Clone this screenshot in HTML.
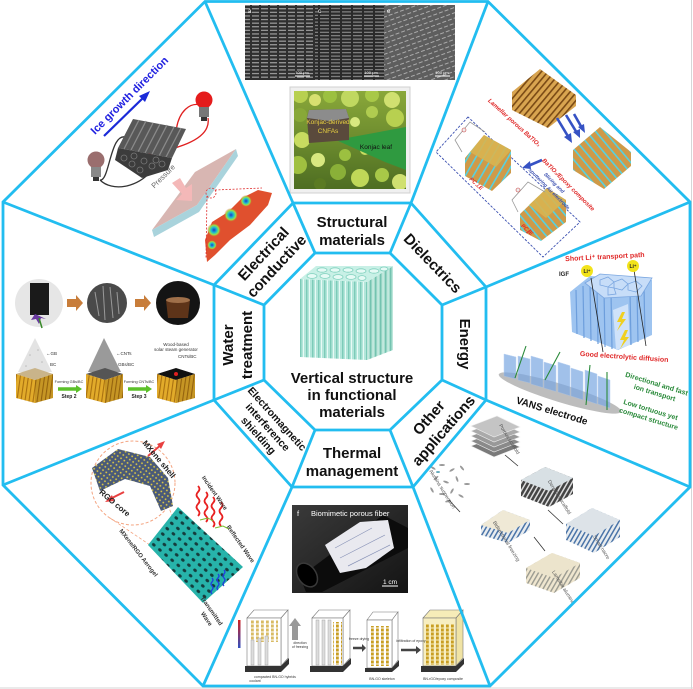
<!DOCTYPE html>
<html><head><meta charset="utf-8"><style>
html,body{margin:0;padding:0;background:#fff;width:693px;height:689px;overflow:hidden}
svg{display:block}
text{font-family:"Liberation Sans",Arial,sans-serif}
.lb{font-weight:bold;fill:#111;font-size:15px}
</style></head><body>
<svg width="693" height="689" viewBox="0 0 693 689" xmlns="http://www.w3.org/2000/svg">
<defs>
<pattern id="sem1" width="9" height="3.6" patternUnits="userSpaceOnUse"><rect width="9" height="3.6" fill="#2f2f2f"/><rect y="1" width="7" height="1.1" fill="#d0d0d0" opacity=".75"/></pattern>
<pattern id="sem2" width="11" height="3.4" patternUnits="userSpaceOnUse"><rect width="11" height="3.4" fill="#2a2a2a"/><rect x="1" y="1.2" width="9" height="1" fill="#c8c8c8" opacity=".7"/></pattern>
<pattern id="sem3" width="6" height="5" patternUnits="userSpaceOnUse" patternTransform="rotate(-20)"><rect width="6" height="5" fill="#5e5e5e"/><rect y="2" width="4" height="0.9" fill="#d8d8d8" opacity=".7"/></pattern>
<linearGradient id="greenG" x1="0" y1="0" x2="0" y2="1"><stop offset="0" stop-color="#8aa83a"/><stop offset="1" stop-color="#4e6e22"/></linearGradient>
<clipPath id="gclip"><rect x="294" y="91" width="112" height="98"/></clipPath>
<pattern id="lam" width="5" height="5" patternUnits="userSpaceOnUse" patternTransform="rotate(40)"><rect width="5" height="5" fill="#d9a550"/><rect width="1.6" height="5" fill="#7a4a15"/></pattern>
<pattern id="comp" width="7" height="7" patternUnits="userSpaceOnUse" patternTransform="rotate(-40)"><rect width="7" height="7" fill="#cf9a48"/><rect width="1.6" height="7" fill="#55d2e2"/></pattern>
<pattern id="comp2" width="7" height="7" patternUnits="userSpaceOnUse" patternTransform="rotate(30)"><rect width="7" height="7" fill="#cf9a48"/><rect width="1.6" height="7" fill="#55d2e2"/></pattern>
<pattern id="stripe" width="6" height="6" patternUnits="userSpaceOnUse"><rect width="6" height="6" fill="#b2e6da"/><rect width="1.4" height="6" fill="#7ccbb8"/><rect x="3" width="1" height="6" fill="#e8faf5"/></pattern>
<pattern id="stripe2" width="5" height="6" patternUnits="userSpaceOnUse"><rect width="5" height="6" fill="#a5dccd"/><rect width="1.3" height="6" fill="#74c3b0"/><rect x="2.6" width="0.9" height="6" fill="#dff5ef"/></pattern>
<pattern id="wood" width="4" height="8" patternUnits="userSpaceOnUse" patternTransform="rotate(8)"><rect width="4" height="8" fill="#e2ab2a"/><rect width="1.1" height="8" fill="#a87010"/></pattern>
<pattern id="holes" width="8" height="7" patternUnits="userSpaceOnUse" patternTransform="rotate(40)"><rect width="8" height="7" fill="#27b3aa"/><ellipse cx="4" cy="3.5" rx="2" ry="1.5" fill="#143c3c"/></pattern>
<pattern id="mx" width="4" height="4" patternUnits="userSpaceOnUse" patternTransform="rotate(35)"><rect width="4" height="4" fill="#4a5a78"/><circle cx="2" cy="2" r="0.9" fill="#e8d040"/></pattern>
<pattern id="gold" width="5" height="4" patternUnits="userSpaceOnUse"><rect x="1" y="0.5" width="2.8" height="3" fill="#c99e22"/></pattern>
<pattern id="dark" width="4" height="4" patternUnits="userSpaceOnUse" patternTransform="rotate(30)"><rect width="4" height="4" fill="#444"/><rect width="1.5" height="4" fill="#ddd"/></pattern>
<pattern id="blu" width="4" height="4" patternUnits="userSpaceOnUse" patternTransform="rotate(30)"><rect width="4" height="4" fill="#e8ecef"/><rect width="1.5" height="4" fill="#4a74a8"/></pattern>
<pattern id="beig" width="4" height="4" patternUnits="userSpaceOnUse" patternTransform="rotate(30)"><rect width="4" height="4" fill="#efe6cf"/><rect width="1.4" height="4" fill="#9a9a90"/></pattern>
<radialGradient id="peak"><stop offset="0" stop-color="#1a3cc8"/><stop offset=".4" stop-color="#20c0d0"/><stop offset=".7" stop-color="#a0e040"/><stop offset="1" stop-color="#e04a30" stop-opacity="0"/></radialGradient>
<linearGradient id="photo" x1="0" y1="0" x2="1" y2="1"><stop offset="0" stop-color="#3a3a3a"/><stop offset="1" stop-color="#141414"/></linearGradient>
<linearGradient id="tbar" x1="0" y1="0" x2="0" y2="1"><stop offset="0" stop-color="#d02020"/><stop offset="1" stop-color="#3050c0"/></linearGradient>
</defs>
<rect width="693" height="689" fill="#fff"/>
<line x1="691.5" y1="0" x2="691.5" y2="689" stroke="#d6d6d6" stroke-width="1"/>
<line x1="0" y1="688" x2="693" y2="688" stroke="#d6d6d6" stroke-width="1"/>

<!-- ===== TOP: structural ===== -->
<rect x="245" y="5" width="70" height="75" fill="url(#sem1)"/>
<rect x="315" y="5" width="69" height="75" fill="url(#sem2)"/>
<rect x="384" y="5" width="71" height="75" fill="url(#sem3)"/>
<text x="248" y="13" font-size="6" fill="#fff">a</text>
<text x="318" y="13" font-size="6" fill="#fff">c</text>
<text x="387" y="13" font-size="6" fill="#fff">e</text>
<line x1="295" y1="76" x2="310" y2="76" stroke="#fff" stroke-width="1"/>
<line x1="364" y1="76" x2="379" y2="76" stroke="#fff" stroke-width="1"/>
<line x1="435" y1="76" x2="450" y2="76" stroke="#fff" stroke-width="1"/>
<text x="302" y="74" font-size="4" fill="#fff" text-anchor="middle">100 μm</text>
<text x="371" y="74" font-size="4" fill="#fff" text-anchor="middle">100 μm</text>
<text x="442" y="74" font-size="4" fill="#fff" text-anchor="middle">100 μm</text>
<rect x="290" y="87" width="120" height="106" fill="#f0f0f0" stroke="#d0d0d0"/>
<rect x="294" y="91" width="112" height="98" fill="url(#greenG)"/>
<g clip-path="url(#gclip)">
<circle cx="300" cy="95" r="8" fill="#b8d050"/><circle cx="315" cy="100" r="6" fill="#d8e070"/><circle cx="330" cy="96" r="7" fill="#9cc040"/><circle cx="350" cy="98" r="9" fill="#c0d860"/><circle cx="372" cy="95" r="7" fill="#a8c848"/><circle cx="392" cy="100" r="8" fill="#d0e070"/><circle cx="300" cy="115" r="7" fill="#88a838"/><circle cx="395" cy="118" r="9" fill="#b8d050"/><circle cx="385" cy="140" r="6" fill="#6a8a28"/><circle cx="302" cy="140" r="8" fill="#c8dc60"/><circle cx="298" cy="165" r="9" fill="#a0c040"/><circle cx="318" cy="160" r="7" fill="#d8e880"/><circle cx="338" cy="172" r="8" fill="#8ab038"/><circle cx="360" cy="178" r="9" fill="#c0d858"/><circle cx="382" cy="175" r="7" fill="#a8c848"/><circle cx="400" cy="182" r="8" fill="#d0e070"/><circle cx="320" cy="184" r="6" fill="#5a7a22"/><circle cx="345" cy="155" r="6" fill="#9cc040"/><circle cx="365" cy="150" r="5" fill="#c8dc60"/><circle cx="372" cy="112" r="6" fill="#b0cc50"/><circle cx="355" cy="122" r="5" fill="#d8e880"/>
<polygon points="336,140 406,127 406,170 385,162" fill="#2f9a40"/>
</g>
<polygon points="307,118 309,110 346,109 349,118 349,140 309,143" fill="#5a4a3c"/>
<polygon points="307,118 309,110 346,109 349,118 330,121" fill="#8c8c8c"/>
<text x="328" y="124" font-size="6.5" fill="#e8d040" text-anchor="middle">Konjac-derived</text>
<text x="328" y="133" font-size="6.5" fill="#e8d040" text-anchor="middle">CNFAs</text>
<text x="376" y="149" font-size="6.5" fill="#111" text-anchor="middle">Konjac leaf</text>

<!-- ===== ELECTRICAL ===== -->
<path d="M128,138 C110,128 110,182 100,180 M100,180 C112,192 138,188 152,170" stroke="#333" stroke-width="1.3" fill="none"/>
<path d="M140,156 C170,150 212,142 208,118 M176,132 C178,112 190,100 204,106" stroke="#e02020" stroke-width="1.3" fill="none"/>
<polygon points="118,148 133,119 186,129 172,158" fill="#585858"/>
<g stroke="#8a8a8a" stroke-width="1.3">
<line x1="139" y1="120" x2="124" y2="149"/><line x1="146" y1="121" x2="131" y2="150"/><line x1="153" y1="123" x2="138" y2="152"/><line x1="160" y1="124" x2="145" y2="153"/><line x1="167" y1="125" x2="152" y2="154"/><line x1="174" y1="127" x2="159" y2="156"/><line x1="181" y1="128" x2="166" y2="157"/></g>
<polygon points="118,148 172,158 168,170 142,178 115,160" fill="#3c3c3c"/>
<g fill="none" stroke="#777" stroke-width=".8"><circle cx="124" cy="158" r="3"/><circle cx="132" cy="164" r="3"/><circle cx="140" cy="170" r="3"/><circle cx="134" cy="156" r="3"/><circle cx="144" cy="161" r="3"/><circle cx="152" cy="166" r="3"/><circle cx="156" cy="160" r="3"/><circle cx="162" cy="164" r="3"/></g>
<circle cx="204" cy="100" r="8.5" fill="#e51c1c"/>
<rect x="199" y="107" width="10" height="10" fill="#777"/><rect x="201" y="117" width="6" height="4" fill="#333"/>
<circle cx="96" cy="160" r="8.5" fill="#9a6e6e"/>
<rect x="91" y="167" width="10" height="10" fill="#888"/><rect x="93" y="177" width="6" height="4" fill="#333"/>
<text transform="translate(132,98) rotate(-45)" text-anchor="middle" font-size="11" font-weight="bold" fill="#2020e0">Ice growth direction</text>
<line x1="104" y1="136" x2="144" y2="97" stroke="#1a2ad8" stroke-width="2.2"/>
<polygon points="150,91 139,96 145,102" fill="#1a2ad8"/>
<polygon points="152,230 195,172 236,149 197,205" fill="#d8b6b2"/>
<polygon points="152,230 197,205 236,149 238,156 199,212 154,237" fill="#a9d3dc"/>
<polygon points="172,183 180,178 186,188 192,184 192,201 176,200 182,194" fill="#f4b8b8"/>
<text transform="translate(165,178) rotate(-45)" text-anchor="middle" font-size="7.5" fill="#666">Pressure</text>
<polygon points="207,262 205,240 212,222 228,212 242,198 258,190 272,193 268,205 250,225 230,240 215,255" fill="#e0502e"/>
<circle cx="214" cy="230" r="7" fill="url(#peak)"/><circle cx="231" cy="215" r="7" fill="url(#peak)"/><circle cx="246" cy="201" r="6" fill="url(#peak)"/><circle cx="212" cy="245" r="5" fill="url(#peak)"/>
<g stroke="#e03030" stroke-width=".8" stroke-dasharray="2,1.5" fill="none"><circle cx="211" cy="193" r="5"/><line x1="207" y1="196" x2="206" y2="258"/><line x1="215" y1="190" x2="262" y2="188"/></g>

<!-- ===== WATER ===== -->
<circle cx="39" cy="303" r="24" fill="#e6e6e6"/>
<rect x="30" y="283" width="19" height="32" fill="#1a1a1a"/>
<path d="M35,314 l-4,6 l5,-1 l3,5 l2,-6 l5,1 z" fill="#6a3aa0"/><line x1="39" y1="318" x2="42" y2="328" stroke="#3a8a2a" stroke-width="1.5"/>
<circle cx="107" cy="303" r="20" fill="#4a4a4a"/>
<g stroke="#999" stroke-width="1"><line x1="95" y1="292" x2="99" y2="316"/><line x1="103" y1="286" x2="105" y2="320"/><line x1="110" y1="287" x2="113" y2="318"/><line x1="117" y1="292" x2="119" y2="314"/></g>
<circle cx="178" cy="303" r="22" fill="#141414"/>
<path d="M166,300 L190,300 L188,318 L168,318 Z" fill="#6b3a1a" opacity=".85"/><ellipse cx="178" cy="300" rx="12" ry="3" fill="#a0704a"/>
<polygon points="67,299 76,299 76,295 83,303 76,311 76,307 67,307" fill="#c87d3a"/>
<polygon points="135,299 144,299 144,295 151,303 144,311 144,307 135,307" fill="#c87d3a"/>
<polygon points="18,372 35,338 52,372" fill="#e3e3e3"/>
<polygon points="88,372 104,338 121,372" fill="#9a9a9a"/>
<g fill="#bbb"><circle cx="30" cy="355" r=".8"/><circle cx="38" cy="350" r=".8"/><circle cx="42" cy="362" r=".8"/><circle cx="26" cy="366" r=".8"/></g>
<polygon points="16,374 35,368 53,374 35,380" fill="#c9b48a"/>
<polygon points="16,374 35,380 35,403 16,398" fill="url(#wood)"/><polygon points="35,380 53,374 53,398 35,403" fill="url(#wood)"/><polygon points="35,380 53,374 53,398 35,403" fill="#000" opacity=".12"/>
<polygon points="86,374 105,368 123,374 105,380" fill="#555"/>
<polygon points="86,374 105,380 105,403 86,398" fill="url(#wood)"/><polygon points="105,380 123,374 123,398 105,403" fill="url(#wood)"/><polygon points="105,380 123,374 123,398 105,403" fill="#000" opacity=".12"/>
<polygon points="157,374 176,368 195,374 176,380" fill="#111"/><circle cx="176" cy="374" r="2" fill="#e02020"/>
<polygon points="157,374 176,380 176,403 157,398" fill="url(#wood)"/><polygon points="176,380 195,374 195,398 176,403" fill="url(#wood)"/><polygon points="176,380 195,374 195,398 176,403" fill="#000" opacity=".12"/>
<line x1="58" y1="389" x2="76" y2="389" stroke="#5cc02a" stroke-width="3.5"/><polygon points="76,385 82,389 76,393" fill="#5cc02a"/>
<line x1="128" y1="389" x2="146" y2="389" stroke="#5cc02a" stroke-width="3.5"/><polygon points="146,385 152,389 146,393" fill="#5cc02a"/>
<g font-size="3.8" fill="#333" text-anchor="middle"><text x="69" y="383">Forming GBs/BC</text><text x="139" y="383">Forming CNTs/BC</text></g>
<g font-size="5" font-weight="bold" fill="#222" text-anchor="middle"><text x="69" y="398">Step 2</text><text x="139" y="398">Step 3</text></g>
<g font-size="4.5" fill="#333"><text x="46" y="355">←GB</text><text x="50" y="366">BC</text><text x="116" y="355">←CNTs</text><text x="118" y="366">GBs/BC</text><text x="178" y="358">CNTs/BC</text></g>
<g font-size="4.5" fill="#333" text-anchor="middle"><text x="176" y="346">Wood-based</text><text x="176" y="351">solar steam generator</text></g>

<!-- ===== EMI ===== -->
<circle cx="133" cy="483" r="42" fill="none" stroke="#f4a582" stroke-width="1" stroke-dasharray="3,2"/>
<g stroke="#f4a582" stroke-width=".8" stroke-dasharray="3,2"><line x1="110" y1="518" x2="150" y2="545"/><line x1="168" y1="505" x2="178" y2="532"/></g>
<polygon points="92,468 118,449 150,457 168,478 173,506 161,511 150,486 125,479 100,491" fill="url(#mx)"/>
<line x1="148" y1="456" x2="162" y2="444" stroke="#e84040" stroke-width="2"/><polygon points="165,441 157,444 161,449" fill="#e84040"/>
<line x1="124" y1="492" x2="110" y2="499" stroke="#e84040" stroke-width="2"/><polygon points="105,502 112,495 114,501" fill="#e84040"/>
<text transform="translate(157,461) rotate(50)" text-anchor="middle" font-size="8" font-weight="bold" fill="#222">MXene shell</text>
<text transform="translate(113,505) rotate(40)" text-anchor="middle" font-size="8" font-weight="bold" fill="#222">RGO core</text>
<polygon points="148,545 178,507 243,567 203,603" fill="url(#holes)"/>
<g stroke="#e82020" stroke-width="1.8" fill="none">
<path d="M198,486 q3,3 0,6 q-3,3 0,6 q3,3 0,6 q-3,3 0,6 q3,3 0,6"/>
<path d="M206,492 q3,3 0,6 q-3,3 0,6 q3,3 0,6 q-3,3 0,6 q3,3 0,6"/>
<path d="M213,497 q3,3 0,6 q-3,3 0,6 q3,3 0,6 q-3,3 0,6 q3,3 0,6"/>
<path d="M221,502 q3,3 0,6 q-3,3 0,6 q3,3 0,6 q-3,3 0,6"/></g>
<g stroke="#2040e0" stroke-width="1.3" fill="none">
<path d="M212,578 q2,2 0,4 q-2,2 0,4 q2,2 0,4 q-2,2 0,4"/><path d="M218,574 q2,2 0,4 q-2,2 0,4 q2,2 0,4 q-2,2 0,4"/><path d="M224,570 q2,2 0,4 q-2,2 0,4 q2,2 0,4 q-2,2 0,4"/></g>
<g stroke="#7ac030" stroke-width="1" fill="none"><path d="M200,520 l8,-2 l5,3"/><path d="M215,528 l8,-2 l6,3"/></g>
<g font-size="6" fill="#333" font-weight="bold">
<text transform="translate(213,494) rotate(55)" text-anchor="middle">Incident Wave</text>
<text transform="translate(239,545) rotate(55)" text-anchor="middle">Reflected Wave</text>
<text transform="translate(137,554) rotate(52)" text-anchor="middle">MXene/RGO Aerogel</text>
<text transform="translate(210,612) rotate(55)" text-anchor="middle">Transmitted</text>
<text transform="translate(205,620) rotate(55)" text-anchor="middle">Wave</text></g>

<!-- ===== THERMAL ===== -->
<rect x="292" y="505" width="116" height="88" fill="url(#photo)"/>
<polygon points="300,577 383,515 408,528 408,548 322,592 306,592" fill="#0c0c0c"/>
<ellipse cx="307" cy="575" rx="9" ry="13" transform="rotate(-35 307 575)" fill="#000" stroke="#3a3a3a" stroke-width="1.5"/>
<polygon points="325,545 360,522 388,520 394,548 366,568 340,573" fill="#e9e9ef"/>
<g stroke="#8a94b8" stroke-width=".7"><line x1="335" y1="548" x2="372" y2="528"/><line x1="340" y1="558" x2="385" y2="535"/><line x1="348" y1="566" x2="390" y2="545"/></g>
<text x="297" y="516" font-size="7.5" fill="#fff">f</text>
<text x="311" y="516" font-size="7.5" fill="#fff">Biomimetic porous fiber</text>
<line x1="382" y1="586" x2="398" y2="586" stroke="#fff" stroke-width="1"/>
<text x="390" y="584" font-size="6.5" fill="#fff" text-anchor="middle">1 cm</text>
<rect x="238" y="620" width="2.5" height="28" fill="url(#tbar)"/>
<g stroke="#777" stroke-width=".6" fill="#fff">
<polygon points="247,618 254,610 288,610 281,618"/><polygon points="281,618 288,610 288,658 281,666"/><rect x="247" y="618" width="34" height="48"/>
<polygon points="312,618 319,610 350,610 343,618"/><polygon points="343,618 350,610 350,658 343,666"/><rect x="312" y="618" width="31" height="48"/>
<polygon points="367,620 373,612 398,612 392,620"/><polygon points="392,620 398,612 398,660 392,668"/><rect x="367" y="620" width="25" height="48"/>
<polygon points="423,618 430,610 463,610 456,618" fill="#f6ecb8"/><polygon points="456,618 463,610 463,658 456,666" fill="#f0e3a4"/><rect x="423" y="618" width="33" height="48" fill="#f7eec0"/></g>
<g fill="#333"><polygon points="245,666 281,666 289,658 289,664 281,672 245,672"/><polygon points="310,666 343,666 351,658 351,664 343,672 310,672"/><polygon points="365,668 392,668 399,660 399,666 392,672 365,672"/><polygon points="421,666 456,666 464,658 464,664 456,672 421,672"/></g>
<rect x="250" y="620" width="28" height="22" fill="url(#gold)" opacity=".7"/>
<g fill="#ddd" stroke="#999" stroke-width=".4"><rect x="251" y="640" width="3" height="25"/><rect x="258" y="638" width="3" height="27"/><rect x="265" y="636" width="3" height="29"/><rect x="316" y="620" width="3" height="45"/><rect x="322" y="620" width="3" height="45"/><rect x="328" y="620" width="3" height="45"/></g>
<rect x="333" y="622" width="9" height="43" fill="url(#gold)"/>
<rect x="369" y="626" width="22" height="40" fill="url(#gold)"/>
<rect x="426" y="624" width="28" height="41" fill="url(#gold)"/>
<polygon points="292,640 292,626 289,626 295,618 301,626 298,626 298,640" fill="#999"/>
<g stroke="#444" stroke-width="2.5"><line x1="353" y1="648" x2="362" y2="648"/><line x1="401" y1="650" x2="416" y2="650"/></g>
<polygon points="362,644 366,648 362,652" fill="#444"/><polygon points="416,646 421,650 416,654" fill="#444"/>
<g font-size="3.5" fill="#333" text-anchor="middle"><text x="300" y="644">direction</text><text x="300" y="648">of freezing</text><text x="359" y="640">freeze drying</text><text x="411" y="642">infiltration of epoxy</text><text x="382" y="680">BN-GO skeleton</text><text x="443" y="680">BN-rGO/epoxy composite</text><text x="275" y="678">compacted BN-GO hybrids</text><text x="255" y="682">coolant</text></g>

<!-- ===== DIELECTRICS ===== -->
<polygon points="468,117 436,152 543,257 580,222" fill="none" stroke="#3a4fb0" stroke-width=".9" stroke-dasharray="2.5,1.5"/>
<polygon points="512,92 540,69 576,95 576,106 548,128 512,110" fill="url(#lam)"/>
<polygon points="573,150 600,127 631,152 631,166 604,189 573,170" fill="url(#comp)"/>
<polygon points="465,158 484,135 511,150 511,173 492,191 465,176" fill="url(#comp2)"/>
<polygon points="484,135 511,150 496,167 470,152" fill="#d8b450" opacity=".9"/>
<polygon points="520,214 547,188 566,200 566,222 541,241 520,230" fill="url(#comp)"/>
<polygon points="547,188 566,200 546,218 529,205" fill="#d8b450" opacity=".9"/>
<g stroke="#999" stroke-width=".8" fill="none"><polyline points="462,152 455,140 470,122 485,132"/><polyline points="518,212 512,200 528,182 545,192"/></g>
<circle cx="464" cy="130" r="2" fill="#eee" stroke="#c44" stroke-width=".6"/><circle cx="518" cy="190" r="2" fill="#eee" stroke="#c44" stroke-width=".6"/>
<g stroke="#3652c4" stroke-width="2.6"><line x1="557" y1="118" x2="569" y2="138"/><line x1="566" y1="115" x2="577" y2="133"/><line x1="574" y1="114" x2="582" y2="128"/><line x1="542" y1="160" x2="528" y2="166"/></g>
<g fill="#3652c4"><polygon points="572,143 564,137 571,133"/><polygon points="580,138 573,132 580,129"/><polygon points="585,133 578,127 584,124"/><polygon points="522,168 530,161 531,169"/></g>
<g font-family="Liberation Serif,serif" font-weight="bold" font-style="italic">
<text transform="translate(513,124) rotate(42)" text-anchor="middle" font-size="6" fill="#e02828">Lamellar porous BaTiO₃</text>
<text transform="translate(567,186) rotate(45)" text-anchor="middle" font-size="6" fill="#e02828">BaTiO₃/Epoxy composite</text>
<text transform="translate(553,184) rotate(45)" text-anchor="middle" font-size="5" fill="#3a4fb0">Slicing and</text>
<text transform="translate(548,190) rotate(45)" text-anchor="middle" font-size="5" fill="#3a4fb0">sputtering Au electrode</text>
<text transform="translate(475,185) rotate(42)" text-anchor="middle" font-size="5.5" fill="#e02828">PC⊥E</text>
<text transform="translate(526,231) rotate(42)" text-anchor="middle" font-size="5.5" fill="#e02828">PC∥E</text></g>

<!-- ===== ENERGY ===== -->
<text x="605" y="259" transform="rotate(-3 605 259)" font-family="Liberation Serif,serif" font-weight="bold" font-size="7" fill="#e02828" text-anchor="middle">Short Li⁺ transport path</text>
<text x="564" y="276" font-family="Liberation Serif,serif" font-weight="bold" font-size="6" fill="#222" text-anchor="middle">IGF</text>
<polygon points="570,292 590,276 652,280 652,335 618,350 572,332" fill="#9ec4f0"/>
<g stroke="#6d9edc" stroke-width="1.2"><line x1="576" y1="290" x2="577" y2="334"/><line x1="583" y1="286" x2="584" y2="338"/><line x1="590" y1="284" x2="591" y2="341"/><line x1="597" y1="288" x2="598" y2="344"/><line x1="604" y1="290" x2="605" y2="347"/><line x1="611" y1="292" x2="612" y2="349"/><line x1="630" y1="292" x2="631" y2="345"/><line x1="637" y1="290" x2="638" y2="342"/><line x1="644" y1="286" x2="645" y2="339"/></g>
<polygon points="585,283 600,274 652,278 641,296 604,298" fill="#c7ddf8" stroke="#7aa6e0" stroke-width=".8"/>
<g fill="none" stroke="#7aa6e0" stroke-width=".8"><polygon points="600,280 608,277 614,282 608,287 600,285"/><polygon points="614,282 622,279 628,284 622,290 614,288"/><polygon points="628,284 636,281 642,286 636,292 628,290"/><polygon points="608,287 614,288 616,294 608,295"/></g>
<polygon points="613,310 628,304 630,345 616,350" fill="#cfe2fa"/>
<polygon points="622,312 617,322 621,322 617,331 626,319 622,319 625,312" fill="#f0d020"/>
<polygon points="625,330 620,340 624,340 620,349 629,337 625,337 628,330" fill="#f0d020"/>
<g stroke="#222" stroke-width=".8"><line x1="591" y1="278" x2="603" y2="352"/><line x1="634" y1="270" x2="646" y2="346"/></g>
<circle cx="587" cy="271" r="6" fill="#f2e31b"/><circle cx="633" cy="266" r="6" fill="#f2e31b"/>
<g font-size="5" font-weight="bold" fill="#222" text-anchor="middle"><text x="587" y="273">Li⁺</text><text x="633" y="268">Li⁺</text></g>
<text x="624" y="359" transform="rotate(4 624 359)" font-family="Liberation Serif,serif" font-weight="bold" font-size="7" fill="#e02828" text-anchor="middle">Good electrolytic diffusion</text>
<ellipse cx="560" cy="393" rx="64" ry="9" transform="rotate(17 560 393)" fill="#bdbdbd"/>
<g fill="#7aa7e2" opacity=".7" stroke="#9fc0ec" stroke-width=".5">
<polygon points="504,376 516,379 516,357 504,354"/>
<polygon points="518,380 530,383 530,359 518,356"/>
<polygon points="531,384 543,387.5 543,359.5 531,356"/>
<polygon points="544,388 556,391.5 556,365.5 544,362"/>
<polygon points="558,392 570,395.7 570,365.7 558,362"/>
<polygon points="571,396 583,399.8 583,371.8 571,368"/>
<polygon points="585,400 597,404 597,374 585,370"/>
<polygon points="598,404 610,408 610,380 598,376"/></g>
<g stroke="#2a8a3a" stroke-width="1.1"><line x1="526" y1="346" x2="515" y2="378"/><line x1="560" y1="352" x2="545" y2="380"/><line x1="590" y1="365" x2="586" y2="405"/><line x1="607" y1="372" x2="607" y2="410"/></g>
<text x="551" y="414" transform="rotate(17 551 414)" font-size="10" font-weight="bold" fill="#111" text-anchor="middle">VANS electrode</text>
<g font-size="7" font-weight="bold" fill="#2a8a3a" text-anchor="middle">
<text x="656" y="386" transform="rotate(17 656 386)">Directional and fast</text>
<text x="654" y="395" transform="rotate(17 654 395)">ion transport</text>
<text x="650" y="412" transform="rotate(17 650 412)">Low tortuous yet</text>
<text x="648" y="421" transform="rotate(17 648 421)">compact structure</text></g>

<!-- ===== OTHER ===== -->
<g stroke="#eee" stroke-width=".6">
<polygon points="471,446 497,436 520,447 494,457" fill="#7a7a7a"/><polygon points="471,441 497,431 520,442 494,452" fill="#8a8a8a"/><polygon points="471,436 497,426 520,437 494,447" fill="#999"/><polygon points="471,431 497,421 520,432 494,442" fill="#aaa"/><polygon points="471,426 497,416 520,427 494,437" fill="#c4c4c4"/></g>
<g fill="#999"><ellipse cx="433" cy="468" rx="3" ry="1" transform="rotate(30 433 468)"/><ellipse cx="442" cy="465" rx="3" ry="1"/><ellipse cx="452" cy="470" rx="3" ry="1" transform="rotate(-30 452 470)"/><ellipse cx="462" cy="468" rx="3" ry="1" transform="rotate(50 462 468)"/><ellipse cx="436" cy="478" rx="3" ry="1" transform="rotate(-40 436 478)"/><ellipse cx="446" cy="482" rx="3" ry="1" transform="rotate(20 446 482)"/><ellipse cx="457" cy="479" rx="3" ry="1" transform="rotate(70 457 479)"/><ellipse cx="467" cy="484" rx="3" ry="1"/><ellipse cx="432" cy="490" rx="3" ry="1" transform="rotate(60 432 490)"/><ellipse cx="442" cy="494" rx="3" ry="1"/><ellipse cx="452" cy="491" rx="3" ry="1" transform="rotate(-60 452 491)"/><ellipse cx="461" cy="496" rx="3" ry="1" transform="rotate(30 461 496)"/><ellipse cx="448" cy="501" rx="3" ry="1" transform="rotate(-20 448 501)"/><ellipse cx="438" cy="472" rx="2" ry="1" fill="#6ab"/></g>
<polygon points="521,480 545,467 573,478 573,494 549,507 521,496" fill="url(#dark)"/><polygon points="521,480 545,467 573,478 549,491" fill="#d8e0e4"/>
<polygon points="481,525 503,510 530,520 530,530 508,543 481,535" fill="url(#blu)"/><polygon points="481,525 503,510 530,520 508,533" fill="#efe9d6"/>
<polygon points="566,524 592,508 620,520 620,537 594,553 566,540" fill="url(#blu)"/><polygon points="566,524 592,508 620,520 594,536" fill="#dde3e8"/>
<polygon points="526,568 552,553 580,563 580,578 554,593 526,583" fill="url(#beig)"/><polygon points="526,568 552,553 580,563 554,578" fill="#ece4cc"/>
<g stroke="#333" stroke-width=".8"><line x1="505" y1="455" x2="518" y2="466"/><line x1="449" y1="500" x2="460" y2="512"/><line x1="548" y1="510" x2="563" y2="524"/><line x1="534" y1="537" x2="545" y2="551"/></g>
<g font-size="5" fill="#555" text-anchor="middle">
<text transform="translate(508,440) rotate(58)">Porous scaffold</text>
<text transform="translate(441,490) rotate(58)">Alumina suspension</text>
<text transform="translate(558,498) rotate(58)">Densified scaffold</text>
<text transform="translate(505,542) rotate(58)">Bidirectional freezing</text>
<text transform="translate(600,548) rotate(58)">Smart nacre</text>
<text transform="translate(562,588) rotate(58)">Lamellar alumina</text></g>

<!-- ===== CENTER CUBE ===== -->
<polygon points="300,279 367,282 367,360 300,357" fill="url(#stripe)"/>
<polygon points="367,282 393,266 393,350 367,360" fill="url(#stripe2)"/>
<polygon points="300,279 316,266 393,266 367,282" fill="#c8f0e6"/>
<g fill="#e6faf5" stroke="#7fd0bd" stroke-width=".8">
<ellipse cx="312" cy="276" rx="5" ry="2.4"/><ellipse cx="325" cy="276" rx="5" ry="2.4"/><ellipse cx="338" cy="277" rx="5" ry="2.4"/><ellipse cx="351" cy="277" rx="5" ry="2.4"/><ellipse cx="362" cy="278" rx="4" ry="2.4"/>
<ellipse cx="322" cy="270" rx="5" ry="2.2"/><ellipse cx="335" cy="270" rx="5" ry="2.2"/><ellipse cx="348" cy="270" rx="5" ry="2.2"/><ellipse cx="361" cy="271" rx="5" ry="2.2"/><ellipse cx="374" cy="271" rx="5" ry="2.2"/><ellipse cx="384" cy="269" rx="4" ry="2"/></g>

<!-- ===== FRAME LINES ===== -->
<g fill="none" stroke="#22bdf0" stroke-width="2.8" stroke-linejoin="miter">
<polygon points="205,1.5 488,1.5 690,202 690,487 490,686 203,686 3,485 3,202"/>
<polygon points="293,203 411,203 486,287 486,400 413,487 292,487 214,400 214,285"/>
<polygon points="315,253 390,253 442,305 442,380 390,430 315,430 264,380 264,305"/>
<line x1="315" y1="253" x2="293" y2="203"/><line x1="390" y1="253" x2="411" y2="203"/><line x1="442" y1="305" x2="486" y2="287"/><line x1="442" y1="380" x2="486" y2="400"/><line x1="390" y1="430" x2="413" y2="487"/><line x1="315" y1="430" x2="292" y2="487"/><line x1="264" y1="380" x2="214" y2="400"/><line x1="264" y1="305" x2="214" y2="285"/>
<line x1="293" y1="203" x2="205" y2="1.5"/><line x1="411" y1="203" x2="488" y2="1.5"/><line x1="486" y1="287" x2="690" y2="202"/><line x1="486" y1="400" x2="690" y2="487"/><line x1="413" y1="487" x2="490" y2="686"/><line x1="292" y1="487" x2="203" y2="686"/><line x1="214" y1="400" x2="3" y2="485"/><line x1="214" y1="285" x2="3" y2="202"/>
</g>

<!-- ===== LABELS ===== -->
<text class="lb" x="352" y="227" text-anchor="middle">Structural</text>
<text class="lb" x="352" y="245" text-anchor="middle">materials</text>
<text class="lb" x="352" y="458" text-anchor="middle">Thermal</text>
<text class="lb" x="352" y="476" text-anchor="middle">management</text>
<text class="lb" x="352" y="383" text-anchor="middle">Vertical structure</text>
<text class="lb" x="352" y="400" text-anchor="middle">in functional</text>
<text class="lb" x="352" y="417" text-anchor="middle">materials</text>
<text class="lb" transform="translate(433,263) rotate(46)" x="0" y="5.5" text-anchor="middle">Dielectrics</text>
<text class="lb" transform="translate(465,344) rotate(90)" x="0" y="5" text-anchor="middle">Energy</text>
<g transform="translate(0,345) rotate(-90)"><text class="lb" x="0" y="233" text-anchor="middle">Water</text><text class="lb" x="0" y="252" text-anchor="middle">treatment</text></g>
<g transform="translate(270,260) rotate(-47)"><text class="lb" x="0" y="-4" text-anchor="middle">Electrical</text><text class="lb" x="0" y="14" text-anchor="middle">conductive</text></g>
<g transform="translate(436,424) rotate(-49)"><text class="lb" x="0" y="-4.5" text-anchor="middle">Other</text><text class="lb" x="0" y="15" text-anchor="middle">applications</text></g>
<g transform="translate(268,427) rotate(48)" font-size="10.5" font-weight="bold" fill="#111" text-anchor="middle"><text x="0" y="-8.7">Electromagnetic</text><text x="0" y="3.8">interference</text><text x="0" y="16.3">shielding</text></g>
</svg>
</body></html>
